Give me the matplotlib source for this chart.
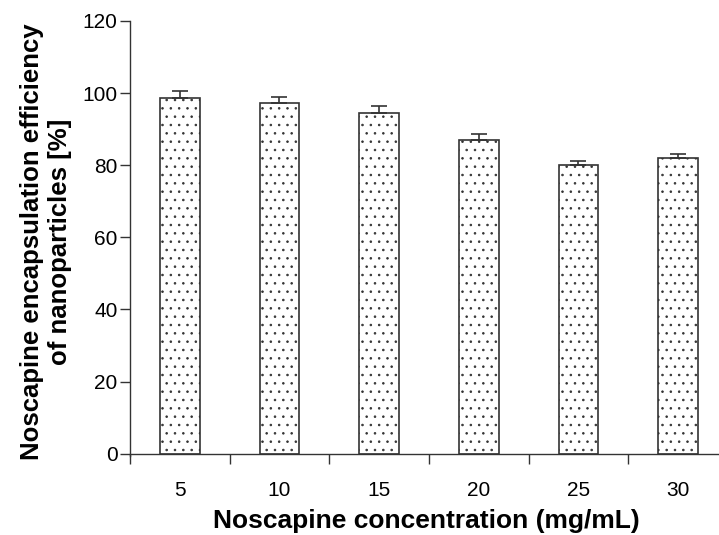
import matplotlib
matplotlib.use("Agg")
import matplotlib.pyplot as plt
import numpy as np

plt.rcParams['font.family'] = ['Liberation Sans', 'DejaVu Sans']
plt.rcParams['hatch.linewidth'] = 0.6
plt.rcParams['hatch.color'] = '#777777'

categories = ["5", "10", "15", "20", "25", "30"]
efficiency = [98.7, 97.3, 94.4, 87.0, 80.1, 82.0]
errors = [2.0, 1.7, 2.0, 1.7, 1.1, 1.0]
yticks = [0, 20, 40, 60, 80, 100, 120]

fig = plt.figure(figsize=(7.19, 5.35), dpi=100)
ax = fig.add_axes([130/719, 1-453.7/535, (722-130)/719, (453.7-21)/535])

x = np.arange(len(categories))
ax.bar(x, efficiency, width=0.40, color='white', edgecolor='#333333',
       linewidth=1.2, hatch='..', zorder=2)
ax.errorbar(x, efficiency, yerr=[np.zeros(len(errors)), errors], fmt='none',
            ecolor='#333333', elinewidth=1.2, capsize=6, capthick=1.2, zorder=3)

ax.set_xlim(-0.5, 5.44)
ax.set_ylim(0, 120)
ax.set_yticks(yticks)
ax.set_yticklabels([str(v) for v in yticks])

ax.set_xticks(np.arange(-0.5, 5.0, 1.0))
ax.set_xticklabels([])
ax.set_xticks(x, minor=True)
ax.set_xticklabels(categories, minor=True)
ax.tick_params(axis='x', which='major', direction='out', length=7, width=1.0, color='#333333')
ax.tick_params(axis='x', which='minor', length=0, pad=20, labelsize=15)
ax.tick_params(axis='y', direction='out', length=7, width=1.0, color='#333333', pad=2, labelsize=15)

for s in ['top', 'right']:
    ax.spines[s].set_visible(False)
for s in ['left', 'bottom']:
    ax.spines[s].set_color('#333333')
    ax.spines[s].set_linewidth(1.0)
ax.spines['left'].set_bounds(-0.5, 120)

ax.set_xlabel('Noscapine concentration (mg/mL)', fontsize=19, fontweight='bold')
ax.xaxis.set_label_coords(0.5, -0.128)
ax.set_ylabel('Noscapine encapsulation efficiency\nof nanoparticles [%]', fontsize=18.5,
              fontweight='bold', linespacing=1.2)
ax.yaxis.set_label_coords(-0.098, 0.49)

fig.savefig('out.png', dpi=100)
